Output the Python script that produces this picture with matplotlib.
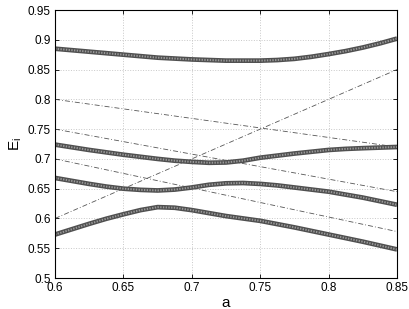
import numpy as np
import matplotlib.pyplot as plt

plt.rcParams['font.family'] = ['Liberation Sans', 'DejaVu Sans']

a = [0.6, 0.6125, 0.625, 0.6375, 0.65, 0.6625, 0.675, 0.6875, 0.7, 0.7125, 0.725,
     0.7375, 0.75, 0.7625, 0.775, 0.7875, 0.8, 0.8125, 0.825, 0.8375, 0.85]
E1 = [0.885, 0.8825, 0.880, 0.8775, 0.875, 0.8725, 0.870, 0.8685, 0.867, 0.866, 0.865,
      0.865, 0.865, 0.866, 0.868, 0.8715, 0.876, 0.881, 0.887, 0.894, 0.902]
E2 = [0.724, 0.7195, 0.715, 0.711, 0.707, 0.7035, 0.700, 0.697, 0.695, 0.6935, 0.694,
      0.697, 0.702, 0.7055, 0.709, 0.712, 0.715, 0.7168, 0.718, 0.719, 0.720]
E3 = [0.668, 0.663, 0.658, 0.6535, 0.650, 0.648, 0.647, 0.6485, 0.652, 0.6565, 0.659,
      0.6595, 0.658, 0.6555, 0.652, 0.6485, 0.645, 0.640, 0.635, 0.629, 0.623]
E4 = [0.573, 0.582, 0.591, 0.5995, 0.607, 0.614, 0.619, 0.618, 0.614, 0.609, 0.604,
      0.600, 0.596, 0.5905, 0.585, 0.579, 0.573, 0.567, 0.561, 0.5545, 0.548]

# uncoupled levels (dash-dot), endpoints at a=0.6 and a=0.85
a_ends = [0.6, 0.85]
L0 = [0.60, 0.85]
L1 = [0.80, 0.72]
L2 = [0.75, 0.645]
L3 = [0.70, 0.578]

fig = plt.figure(figsize=(4.09, 3.09), dpi=100)
ax = fig.add_axes([0.1345, 0.1003, 0.8362, 0.8673])

for L in (L0, L1, L2, L3):
    ax.plot(a_ends, L, color='#555555', lw=0.6, dashes=(6, 2.5, 1, 2.5))

for E in (E1, E2, E3, E4):
    ax.plot(a, E, color='#505050', lw=3.4, solid_capstyle='butt')
    ax.plot(a, E, color='#9a9a9a', lw=1.4, dashes=(0.7, 0.7))

ax.set_xlim(0.6, 0.85)
ax.set_ylim(0.5, 0.95)
ax.set_xticks([0.6, 0.65, 0.7, 0.75, 0.8, 0.85])
ax.set_xticklabels(['0.6', '0.65', '0.7', '0.75', '0.8', '0.85'])
ax.set_yticks(np.arange(0.5, 0.951, 0.05))
ax.set_yticklabels(['0.5', '0.55', '0.6', '0.65', '0.7', '0.75', '0.8', '0.85', '0.9', '0.95'])
ax.grid(True, color='#c8c8c8', linestyle=':', lw=0.7)
ax.tick_params(direction='in', length=3, width=0.6, labelsize=8.5,
               top=True, right=True, pad=3)
for s in ax.spines.values():
    s.set_linewidth(0.8)
ax.set_xlabel('a', fontsize=11, labelpad=1)
ax.set_ylabel('E$_\\mathregular{i}$', fontsize=11, labelpad=3)

fig.savefig('out.png', dpi=100)
